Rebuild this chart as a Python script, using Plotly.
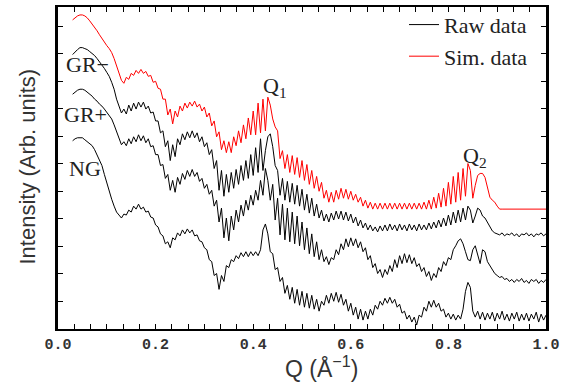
import numpy as np
import plotly.graph_objects as go

# Q grid (Å^-1) shared by all series: 0.030 ... 1.000 in steps of 0.005
Q = np.round(np.arange(0.030, 1.0001, 0.005), 3)

# Intensities (arbitrary units, curves vertically offset as in the figure)
SIM = [
    312, 314, 316, 317, 317, 316, 314, 311, 308, 305,
    301, 297, 293, 290, 286, 283, 279, 273, 266, 258,
    251, 248, 254, 252, 258, 256, 261, 258, 262, 258,
    260, 255, 256, 249, 250, 243, 242, 232, 232, 216,
    222, 207, 220, 214, 225, 220, 228, 223, 229, 225,
    230, 224, 227, 220, 224, 214, 218, 205, 210, 194,
    199, 181, 190, 178, 189, 178, 194, 185, 200, 188,
    206, 192, 213, 196, 220, 196, 228, 198, 232, 200,
    234, 226, 212, 204, 200, 172, 180, 162, 176, 158,
    175, 156, 173, 153, 170, 150, 166, 146, 160, 142,
    154, 139, 148, 132, 140, 128, 138, 128, 140, 131,
    142, 132, 141, 131, 139, 130, 136, 128, 133, 124,
    130, 122, 128, 121, 127, 121, 127, 121, 127, 121,
    127, 121, 127, 121, 127, 121, 127, 121, 127, 121,
    127, 121, 127, 121, 128, 121, 130, 121, 133, 122,
    137, 123, 142, 124, 148, 126, 154, 128, 158, 130,
    162, 134, 167, 160, 132, 145, 155, 157, 157, 153,
    142, 133, 130, 128, 124, 121, 121, 121, 121, 121,
    121, 121, 121, 121, 121, 121, 121, 121, 121, 121,
    121, 121, 121, 121, 121,
]

GR_MINUS = [
    277, 280, 282, 284, 284, 283, 282, 280, 278, 276,
    273, 270, 266, 263, 259, 255, 249, 242, 232, 226,
    218, 222, 217, 226, 220, 228, 222, 229, 224, 229,
    222, 225, 218, 219, 210, 210, 198, 200, 184, 190,
    170, 186, 174, 192, 186, 197, 191, 199, 193, 200,
    193, 198, 189, 194, 184, 188, 176, 181, 162, 170,
    140, 160, 134, 156, 138, 158, 142, 161, 146, 165,
    150, 170, 152, 176, 155, 183, 158, 192, 160, 180,
    194, 197, 184, 165, 160, 135, 152, 130, 149, 128,
    147, 126, 145, 124, 141, 120, 136, 117, 132, 114,
    126, 112, 120, 109, 116, 108, 117, 110, 119, 111,
    119, 110, 118, 109, 116, 107, 113, 104, 110, 102,
    107, 100, 105, 99, 103, 98, 104, 99, 105, 99,
    106, 100, 105, 99, 106, 100, 105, 99, 106, 100,
    105, 99, 106, 100, 105, 100, 107, 101, 108, 102,
    110, 103, 112, 104, 115, 105, 118, 107, 120, 108,
    122, 110, 124, 120, 107, 114, 122, 120, 114, 112,
    108, 103, 99, 97, 96, 95, 97, 94, 96, 95,
    97, 94, 96, 93, 96, 95, 97, 94, 96, 93,
    96, 95, 97, 94, 96,
]

GR_PLUS = [
    237, 239, 241, 242, 242, 241, 239, 237, 235, 232,
    230, 227, 225, 222, 219, 216, 212, 206, 199, 193,
    186, 189, 185, 192, 187, 194, 189, 196, 190, 195,
    188, 192, 184, 185, 176, 176, 165, 166, 152, 156,
    140, 150, 138, 153, 146, 157, 151, 160, 154, 161,
    154, 158, 149, 152, 142, 146, 136, 140, 124, 130,
    108, 122, 92, 112, 89, 114, 100, 120, 108, 125,
    114, 130, 120, 135, 125, 140, 130, 150, 135, 162,
    150, 130, 146, 110, 132, 95, 126, 90, 122, 88,
    118, 86, 114, 84, 108, 80, 102, 76, 96, 73,
    88, 70, 80, 68, 73, 65, 72, 70, 80, 75,
    86, 80, 91, 83, 92, 84, 91, 82, 88, 78,
    82, 70, 74, 62, 66, 56, 60, 52, 60, 55,
    64, 58, 70, 62, 74, 66, 76, 67, 75, 66,
    72, 63, 66, 58, 62, 53, 58, 49, 56, 52,
    62, 58, 68, 64, 72, 70, 80, 84, 89, 91,
    86, 78, 70, 69, 80, 84, 76, 66, 80, 78,
    68, 64, 60, 56, 54, 52, 53, 50, 51, 48,
    50, 47, 50, 48, 51, 47, 49, 46, 50, 48,
    50, 46, 49, 47, 50,
]

NG = [
    190, 192, 193, 193, 193, 191, 189, 187, 185, 181,
    176, 171, 165, 156, 147, 139, 131, 124, 118, 115,
    112, 116, 115, 120, 118, 124, 121, 126, 121, 123,
    118, 119, 113, 112, 105, 103, 96, 94, 86, 88,
    82, 92, 90, 97, 94, 100, 96, 101, 97, 100,
    94, 95, 89, 88, 82, 80, 70, 68, 54, 56,
    40, 54, 48, 64, 62, 70, 68, 74, 71, 77,
    73, 78, 73, 78, 74, 78, 74, 80, 100, 106,
    96, 78, 76, 60, 62, 48, 52, 36, 44, 30,
    42, 26, 40, 24, 38, 22, 36, 21, 34, 20,
    30, 18, 28, 24, 34, 26, 36, 28, 37, 27,
    35, 24, 30, 18, 26, 14, 22, 10, 20, 9,
    18, 10, 20, 14, 24, 20, 28, 24, 31, 26,
    32, 26, 30, 22, 25, 16, 18, 10, 14, 7,
    12, 4, 14, 12, 22, 18, 28, 22, 29, 22,
    26, 18, 20, 12, 16, 10, 15, 9, 14, 10,
    20, 38, 47, 42, 18, 12, 18, 10, 17, 9,
    16, 10, 17, 8, 16, 10, 18, 9, 15, 8,
    16, 10, 17, 8, 15, 9, 16, 8, 15, 10,
    17, 7, 15, 9, 14,
]

X_TICKS = [0.0, 0.2, 0.4, 0.6, 0.8, 1.0]
X_TICK_LABELS = ["0.0", "0.2", "0.4", "0.6", "0.8", "1.0"]

SERIF = "Liberation Serif, Times New Roman, serif"
SANS = "Liberation Sans, Arial, sans-serif"
RED = "#ff0000"

fig = go.Figure()
fig.add_trace(go.Scatter(x=Q, y=GR_MINUS, mode="lines", name="Raw data",
                         line=dict(color="black", width=1), legendrank=1))
fig.add_trace(go.Scatter(x=Q, y=GR_PLUS, mode="lines", name="Raw data",
                         line=dict(color="black", width=1), showlegend=False))
fig.add_trace(go.Scatter(x=Q, y=NG, mode="lines", name="Raw data",
                         line=dict(color="black", width=1), showlegend=False))
fig.add_trace(go.Scatter(x=Q, y=SIM, mode="lines", name="Sim. data",
                         line=dict(color=RED, width=1), legendrank=2))

labels = [
    ("GR\u2212", 0.012, 267),
    ("GR+", 0.008, 217),
    ("NG", 0.018, 162),
    ("Q<sub>1</sub>", 0.416, 244),
    ("Q<sub>2</sub>", 0.826, 174),
]
for txt, xq, yv in labels:
    fig.add_annotation(x=xq, y=yv, xref="x", yref="y", text=txt, showarrow=False,
                       xanchor="left", yanchor="middle",
                       font=dict(family=SERIF, size=22, color="#222"))

fig.add_annotation(x=(28 - 58) / 488, y=(329 - 165) / 325, xref="paper", yref="paper",
                   text="Intensity (Arb. units)", textangle=-90, showarrow=False,
                   xanchor="center", yanchor="middle",
                   font=dict(family=SANS, size=22, color="#333"))
fig.add_annotation(x=(321 - 58) / 488, y=-38 / 325, xref="paper", yref="paper",
                   text="Q (\u00c5<sup>\u22121</sup>)", showarrow=False,
                   xanchor="center", yanchor="middle",
                   font=dict(family=SANS, size=23, color="#333"))

fig.update_layout(
    width=572, height=383,
    margin=dict(l=58, r=26, t=4, b=54),
    paper_bgcolor="white", plot_bgcolor="white",
    showlegend=True,
    legend=dict(x=(404 - 58) / 488, y=1.01, xanchor="left", yanchor="top",
                bgcolor="rgba(0,0,0,0)", tracegroupgap=0, itemwidth=30,
                font=dict(family=SERIF, size=22, color="#222")),
    xaxis=dict(range=[0, 1.0], tickvals=X_TICKS, ticktext=X_TICK_LABELS,
               ticks="inside", ticklen=5, tickwidth=1, tickcolor="black",
               minor=dict(dtick=1 / 30, tick0=0, ticks="inside", ticklen=5,
                          tickcolor="black", showgrid=False),
               showline=True, linecolor="black", linewidth=2, mirror="ticks",
               showgrid=False, zeroline=False,
               tickfont=dict(family="Liberation Mono, Courier New, monospace",
                             size=15, color="#333", weight="bold")),
    yaxis=dict(range=[0, 325], tick0=0, dtick=27.8, ticks="inside", ticklen=5,
               tickcolor="black", showticklabels=False,
               showline=True, linecolor="black", linewidth=2.5, mirror="ticks",
               showgrid=False, zeroline=False),
)

fig.write_html("out.html")
